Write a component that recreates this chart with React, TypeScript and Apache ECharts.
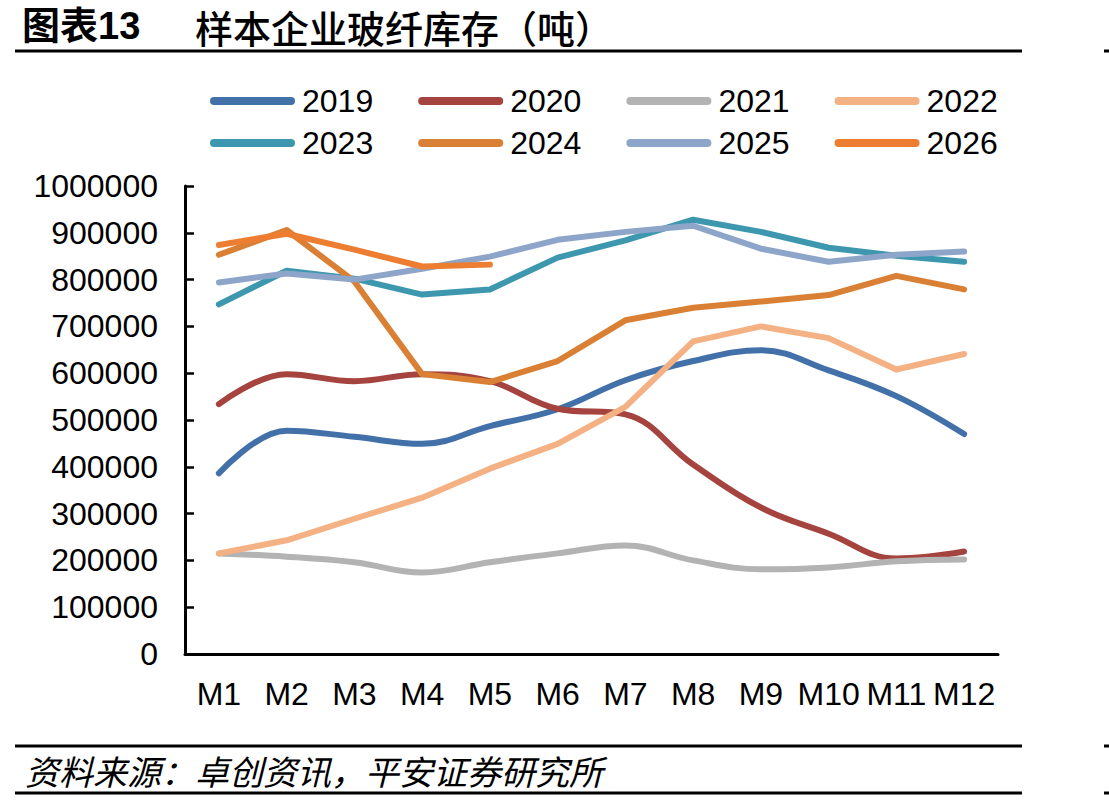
import React, { useEffect, useRef } from "react";
import * as echarts from "echarts";

const months = ["M1", "M2", "M3", "M4", "M5", "M6", "M7", "M8", "M9", "M10", "M11", "M12"];
const yTicks = { min: 0, max: 1000000, interval: 100000 };

const d2019 = [386000, 477000, 464000, 449000, 487000, 523000, 585000, 626000, 649000, 606000, 551000, 470000];
const d2020 = [534000, 598000, 583000, 598000, 583000, 524000, 512000, 405000, 313000, 257000, 204000, 219000];
const d2021 = [215000, 208000, 196000, 174000, 196000, 215000, 232000, 200000, 181000, 185000, 198000, 202000];
const d2022 = [215000, 243000, 289000, 334000, 396000, 449000, 528000, 668000, 700000, 675000, 608000, 641000];
const d2023 = [747000, 819000, 802000, 768000, 779000, 847000, 884000, 928000, 902000, 868000, 851000, 838000];
const d2024 = [853000, 906000, 796000, 598000, 581000, 626000, 713000, 740000, 753000, 767000, 808000, 779000];
const d2025 = [794000, 813000, 800000, 823000, 849000, 885000, 902000, 915000, 866000, 838000, 853000, 860000];
const d2026 = [874000, 898000, 864000, 828000, 832000];

const seriesDefs = [
  { name: "2019", data: d2019, color: "#4270a8", smooth: true },
  { name: "2020", data: d2020, color: "#a5433f", smooth: true },
  { name: "2021", data: d2021, color: "#b3b3b3", smooth: true },
  { name: "2022", data: d2022, color: "#f4b183", smooth: false },
  { name: "2023", data: d2023, color: "#3d97ae", smooth: false },
  { name: "2024", data: d2024, color: "#da8035", smooth: false },
  { name: "2025", data: d2025, color: "#8ea5ca", smooth: false },
  { name: "2026", data: d2026, color: "#ed7d31", smooth: false },
];

const FONT = '"Liberation Sans", Arial, "Noto Sans CJK SC", sans-serif';
const ICON = "path://M4,0L81,0A4,4,0,0,1,81,8L4,8A4,4,0,0,1,4,0Z";

export default function App() {
  const ref = useRef<HTMLDivElement>(null);
  useEffect(() => {
    document.body.style.margin = "0";
    if (!ref.current) return;
    const chart = echarts.init(ref.current, null, { renderer: "svg" });
    const legendBase = {
      left: 210,
      orient: "horizontal",
      padding: 0,
      itemGap: 45,
      itemWidth: 85,
      itemHeight: 8,
      icon: ICON,
      textStyle: { fontSize: 32, color: "#000", fontFamily: FONT, lineHeight: 32, padding: [0, 0, 0, 2] },
    };
    chart.setOption({
      animation: false,
      backgroundColor: "#fff",
      legend: [
        { ...legendBase, top: 85, data: seriesDefs.slice(0, 4).map((s) => s.name) },
        { ...legendBase, top: 127, data: seriesDefs.slice(4).map((s) => s.name) },
      ],
      grid: { left: 185, right: 111, top: 186, bottom: 148, containLabel: false },
      xAxis: {
        type: "category",
        data: months,
        boundaryGap: true,
        axisLine: { lineStyle: { color: "#000", width: 3 } },
        axisTick: { inside: true, length: 9, lineStyle: { color: "#000", width: 2.5 } },
        axisLabel: { interval: 0, fontSize: 32, color: "#000", fontFamily: FONT, margin: 24 },
        splitLine: { show: false },
      },
      yAxis: {
        type: "value",
        min: yTicks.min,
        max: yTicks.max,
        interval: yTicks.interval,
        axisLine: { show: true, lineStyle: { color: "#000", width: 3 } },
        axisTick: { show: true, inside: true, length: 9, lineStyle: { color: "#000", width: 2.5 } },
        axisLabel: {
          fontSize: 32,
          color: "#000",
          fontFamily: FONT,
          margin: 27,
          formatter: (v: number) => String(v),
        },
        splitLine: { show: false },
      },
      series: seriesDefs.map((s) => ({
        name: s.name,
        type: "line",
        data: s.data,
        smooth: s.smooth ? 0.4 : false,
        showSymbol: false,
        symbol: "none",
        color: s.color,
        lineStyle: { color: s.color, width: 6, cap: "round", join: "round" },
      })),
      graphic: [
        {
          type: "text",
          x: 22,
          y: 26,
          style: {
            text: "图表13",
            fontSize: 38,
            lineHeight: 40,
            fontWeight: "bold",
            fill: "#000",
            fontFamily: FONT,
            verticalAlign: "middle",
          },
        },
        {
          type: "text",
          x: 195,
          y: 26,
          style: {
            text: "样本企业玻纤库存（吨）",
            fontSize: 38,
            lineHeight: 40,
            fontWeight: 500,
            fill: "#000",
            fontFamily: '"Noto Sans CJK SC", sans-serif',
            verticalAlign: "middle",
          },
        },
        { type: "line", shape: { x1: 15, y1: 51, x2: 1022, y2: 51 }, style: { stroke: "#000", lineWidth: 3 } },
        { type: "line", shape: { x1: 1104, y1: 51, x2: 1109, y2: 51 }, style: { stroke: "#000", lineWidth: 3 } },
        { type: "line", shape: { x1: 15, y1: 746, x2: 1022, y2: 746 }, style: { stroke: "#000", lineWidth: 3 } },
        { type: "line", shape: { x1: 1104, y1: 746, x2: 1109, y2: 746 }, style: { stroke: "#000", lineWidth: 3 } },
        { type: "line", shape: { x1: 15, y1: 793, x2: 1022, y2: 793 }, style: { stroke: "#000", lineWidth: 3 } },
        { type: "line", shape: { x1: 1104, y1: 793, x2: 1109, y2: 793 }, style: { stroke: "#000", lineWidth: 3 } },
        {
          type: "text",
          x: 25,
          y: 770,
          style: {
            text: "资料来源：卓创资讯，平安证券研究所",
            fontSize: 34,
            lineHeight: 36,
            fontStyle: "italic",
            fill: "#000",
            fontFamily: '"Noto Sans CJK SC", sans-serif',
            verticalAlign: "middle",
          },
        },
      ],
    });
    return () => chart.dispose();
  }, []);
  return <div ref={ref} style={{ position: "absolute", left: 0, top: 0, width: 1109, height: 802 }} />;
}
